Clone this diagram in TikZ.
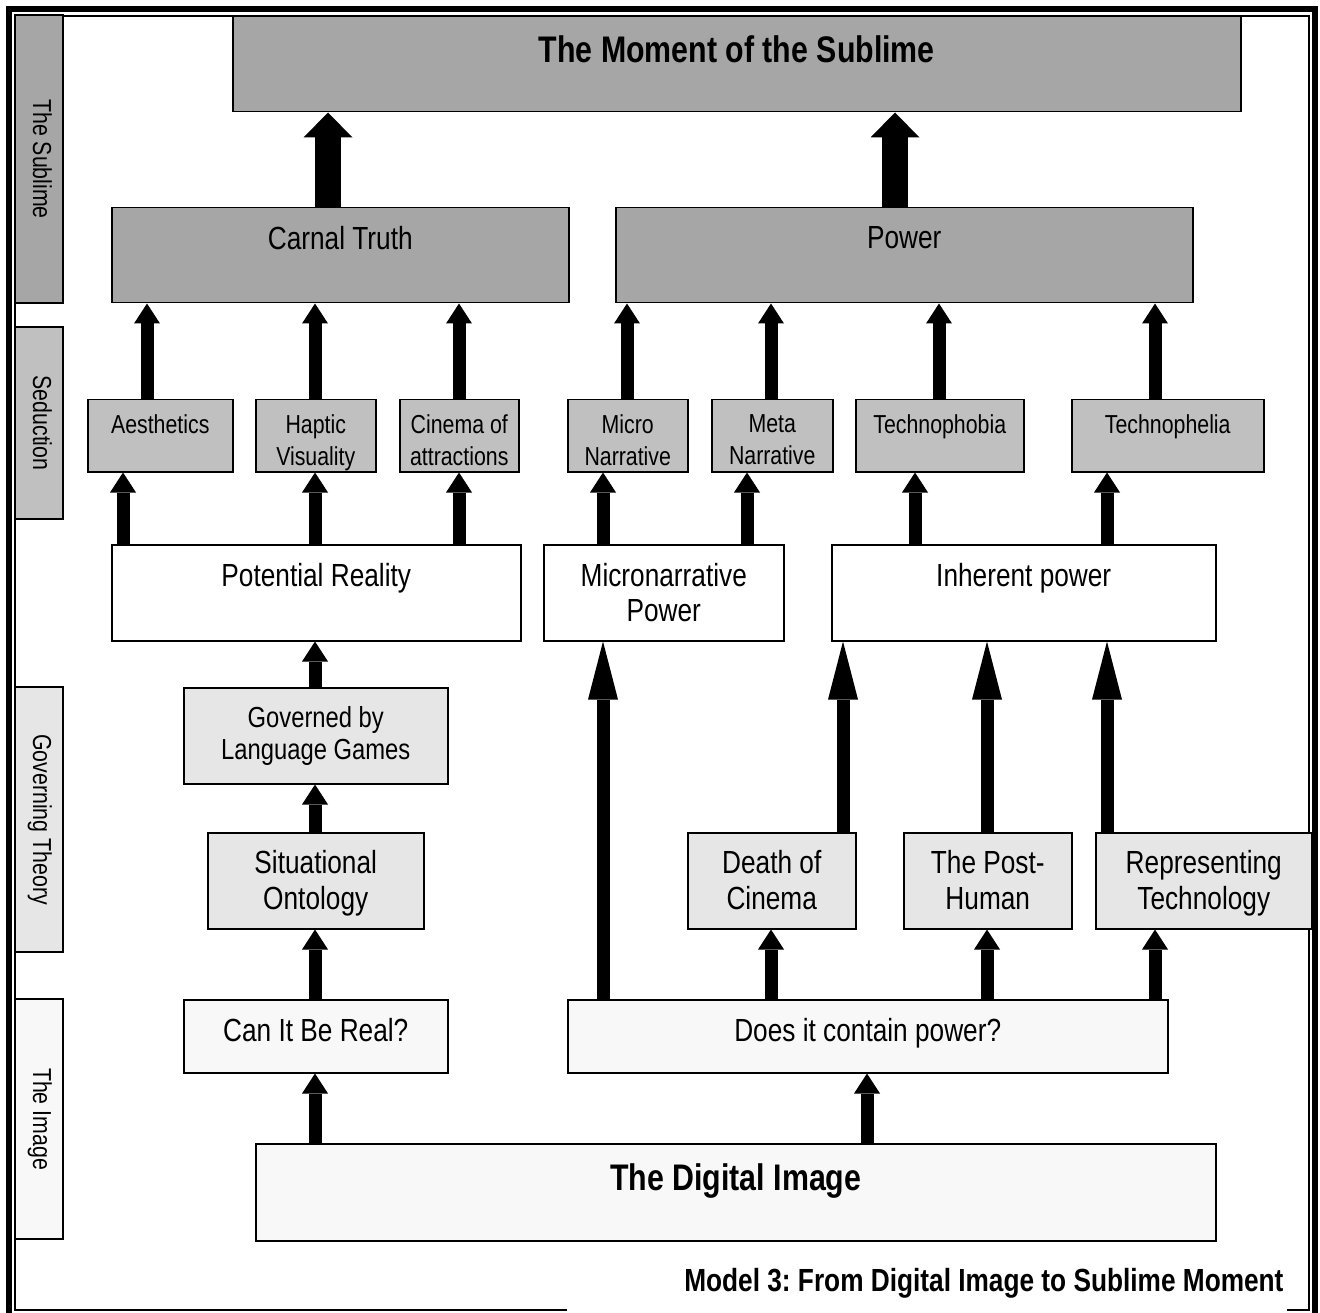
\documentclass[tikz,border=0pt]{standalone}
\usepackage{fontspec}
\setmainfont[FakeStretch=0.82]{Liberation Sans}
\usepackage{tikz}
\usetikzlibrary{arrows.meta}
\frenchspacing
\definecolor{darkgrey}{HTML}{A6A6A6}
\definecolor{midgrey}{HTML}{C0C0C0}
\definecolor{lightgrey}{HTML}{E6E6E6}
\definecolor{palegrey}{HTML}{F8F8F8}
\newcommand{\boxtext}[4]{\parbox[c][#2pt][t]{#1pt}{\centering\vspace*{#3pt}#4}}
\tikzset{cell/.style={draw, line width=1.5pt, inner sep=0pt, anchor=north west},
  darkbox/.style={cell, fill=darkgrey, font=\fontsize{32}{36}\selectfont},
  midbox/.style={cell, fill=midgrey, font=\fontsize{26}{32}\selectfont},
  lightbox/.style={cell, fill=lightgrey, font=\fontsize{32}{36}\selectfont},
  palebox/.style={cell, fill=palegrey, font=\fontsize{32}{36}\selectfont},
  plainbox/.style={cell, fill=white, font=\fontsize{32}{35}\selectfont},
  sidebox/.style={draw, line width=1.5pt, inner sep=0pt, rotate=-90, text height=30pt, text depth=18pt, font=\fontsize{26}{30}\selectfont},
  uparrow/.style={line width=13pt, -{Triangle[width=26pt,length=20pt,line width=0pt]}},
  longarrow/.style={line width=13pt, -{Triangle[width=30pt,length=58pt,line width=0pt]}},
  bigarrow/.style={line width=26pt, -{Triangle[width=49pt,length=25pt,line width=0pt]}}}

\begin{document}
\begin{tikzpicture}[x=1pt,y=-1pt]
  \useasboundingbox (0,0) rectangle (1320,1313);
  % frame
  \draw[line width=6pt] (9,1313) -- (9,9) -- (1315,9) -- (1315,1313);
  \draw[line width=2.5pt] (567,1310) -- (15,1310) -- (15,16) -- (1309,16) -- (1309,1310) -- (1287,1310);
  % levels
  \foreach \y/\len/\col/\lab/\name in {
    159/288/darkgrey/sublime/The Sublime,
    423/192/midgrey/seduction/Seduction,
    819.5/265/lightgrey/governing/Governing Theory,
    1119/240/palegrey/image/The Image%
  } {
    \node[sidebox, fill=\col, minimum width=\len] (\lab) at (39,\y) {\name};
  }
  % boxes
  \node[darkbox, font=\fontsize{37}{40}\selectfont\bfseries] (moment) at (232,16) {\boxtext{1008}{95}{19}{The Moment of the Sublime}};
  \foreach \x/\w/\lab/\name in {
    111/457/carnal/Carnal Truth,
    615/577/power/Power%
  } {
    \node[darkbox] (\lab) at (\x,207) {\boxtext{\w}{95}{18.5}{\name}};
  }
  \foreach \x/\w/\lab/\name in {
    87/145/aesthetics/Aesthetics,
    255/120/haptic/Haptic\\Visuality,
    399/119/cinema/Cinema of\\attractions,
    567/120/micro/Micro\\Narrative,
    711/121/meta/Meta\\Narrative,
    855/168/phobia/Technophobia,
    1071/192/phelia/Technophelia%
  } {
    \node[midbox] (\lab) at (\x,399) {\boxtext{\w}{72}{14.7}{\name}};
  }
  \foreach \x/\w/\lab/\name in {
    111/409/potential/Potential Reality,
    543/240/micropower/Micronarrative\\Power,
    831/384/inherent/Inherent power%
  } {
    \node[plainbox] (\lab) at (\x,544) {\boxtext{\w}{96}{18.5}{\name}};
  }
  \node[lightbox, font=\fontsize{29}{32}\selectfont] (language) at (183,687) {\boxtext{264}{96}{18.6}{Governed by\\Language Games}};
  \foreach \x/\w/\lab/\name in {
    207/216/ontology/Situational\\Ontology,
    687/168/death/Death of\\Cinema,
    903/168/posthuman/The Post-\\Human,
    1095/216/represent/Representing\\Technology%
  } {
    \node[lightbox] (\lab) at (\x,832) {\boxtext{\w}{96}{17.5}{\name}};
  }
  \foreach \x/\w/\lab/\name in {
    183/264/real/Can It Be Real?,
    567/600/contain/Does it contain power?%
  } {
    \node[palebox] (\lab) at (\x,999) {\boxtext{\w}{73}{18.5}{\name}};
  }
  \node[palebox, font=\fontsize{37}{40}\selectfont\bfseries] (digital) at (255,1143) {\boxtext{960}{97}{19.8}{The Digital Image}};
  \node[font=\fontsize{32}{36}\selectfont\bfseries, anchor=base east] (caption) at (1287,1291) {Model 3: From Digital Image to Sublime Moment};
  % arrows
  \foreach \u/\v/\x in {carnal/moment/328, power/moment/895} {
    \draw[bigarrow] (\u.north -| \x,0) -- (\v.south -| \x,0);
  }
  \foreach \u/\v/\x in {
    aesthetics/carnal/147, haptic/carnal/315, cinema/carnal/459,
    micro/power/627, meta/power/771, phobia/power/939, phelia/power/1155,
    potential/aesthetics/123, potential/haptic/315, potential/cinema/459,
    micropower/micro/603, micropower/meta/747,
    inherent/phobia/915, inherent/phelia/1107,
    language/potential/315, ontology/language/315, real/ontology/315,
    digital/real/315, digital/contain/867,
    contain/death/771, contain/posthuman/987, contain/represent/1155%
  } {
    \draw[uparrow] (\u.north -| \x,0) -- (\v.south -| \x,0);
  }
  \foreach \u/\v/\x in {
    contain/micropower/603, death/inherent/843,
    posthuman/inherent/987, represent/inherent/1107%
  } {
    \draw[longarrow] (\u.north -| \x,0) -- (\v.south -| \x,0);
  }
\end{tikzpicture}
\end{document}
